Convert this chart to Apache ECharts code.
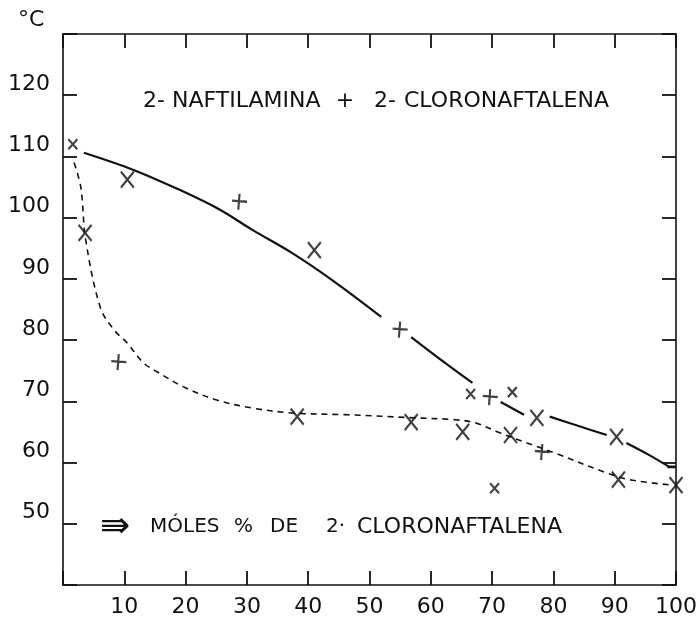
<!DOCTYPE html>
<html>
<head>
<meta charset="utf-8">
<script src="https://cdn.jsdelivr.net/npm/echarts@6/dist/echarts.min.js"></script>
<style>
html,body{margin:0;padding:0;background:#fff;}
#chart{width:700px;height:624px;}
</style>
</head>
<body>
<div id="chart"></div>
<script>
// ---- data ----
var xTicks = [10, 20, 30, 40, 50, 60, 70, 80, 90, 100];
var yTicks = [50, 60, 70, 80, 90, 100, 110, 120];

// liquidus (solid), null = pen lifted around a marker
var liquidusX = [3.4, 11.5, 19.1, 25.6, 30.9, 37.4, 43.9, 51.9, 54.0, 56.8, 61.5, 66.8, 69.0, 71.4, 75.2, 77.3, 79.4, 84.0, 88.7, 90.3, 91.9, 95.5, 98.9];
var liquidusY = [110.6, 107.8, 104.5, 101.3, 98.0, 94.2, 89.8, 83.8, null, 80.5, 76.9, 73.0, null, 69.9, 67.8, null, 67.5, 66.0, 64.5, null, 63.2, 61.3, 59.3];
// short flat stroke where the liquidus meets the right axis
var liquidusEndX = [98.6, 100];
var liquidusEndY = [59.3, 59.3];

// solidus (dashed)
var solidusX = [1.8, 2.9, 3.7, 6.1, 8.3, 10.5, 13.1, 15.4, 19.6, 25.1, 30.9, 37.4, 46.6, 57.4, 63.9, 67.2, 70.9, 75.7, 80.1, 88.7, 92.4, 99.5];
var solidusY = [109.0, 105.0, 96.4, 85.3, 81.7, 79.5, 76.3, 74.8, 72.4, 70.2, 68.9, 68.1, 67.8, 67.3, 67.0, 66.5, 65.0, 63.2, 61.6, 58.3, 57.2, 56.3];

// measured points drawn as "X"
var crossX = [10.5, 41.0, 3.6, 38.2, 77.3, 90.3, 56.8, 65.2, 73.0, 90.6, 100];
var crossY = [106.2, 94.7, 97.5, 67.5, 67.3, 64.2, 66.6, 65.0, 64.5, 57.2, 56.3];
// small "x"
var smallX = [1.6, 66.5, 73.3, 70.4];
var smallY = [112.0, 71.2, 71.5, 55.8];
// "+" shaped points
var plusX = [28.8, 9.1, 55.0, 69.7, 78.2];
var plusY = [102.6, 76.4, 81.7, 70.7, 61.7];

// texts
var unitText = '°C';
var titleParts = ['2-', 'NAFTILAMINA', '+', '2-', 'CLORONAFTALENA'];
var axisTitleParts = ['⇛', 'MÓLES', '%', 'DE', '2·', 'CLORONAFTALENA'];

function pairs(xs, ys) {
  return xs.map(function (x, i) { return [x, ys[i] === null ? '-' : ys[i]]; });
}

var INK = '#111';
var FONT = '"DejaVu Sans", sans-serif';
var X_PATH = 'path://M0,0L10,12M10,0L0,12';
var PLUS_PATH = 'path://M6,0L5,14M0,6L12,7';

var chart = echarts.init(document.getElementById('chart'));

function axisCommon() {
  return {
    axisLine: { show: true, onZero: false, lineStyle: { color: INK, width: 1.6 } },
    axisTick: { show: true, inside: true, length: 14, lineStyle: { color: INK, width: 1.8 } },
    splitLine: { show: false },
    axisLabel: { show: false }
  };
}

function txt(x, y, text, size, align) {
  return { type: 'text', x: x, y: y, silent: true,
    style: { text: text, font: size + 'px ' + FONT, fill: INK, align: align || 'left', verticalAlign: 'middle' } };
}

var option = {
  backgroundColor: '#fff',
  animation: false,
  grid: { left: 63, right: 20, top: 34, bottom: 39 },
  xAxis: [
    Object.assign(axisCommon(), {
      type: 'value', min: 0, max: 100, interval: 10, position: 'bottom',
      axisLabel: {
        show: true, color: INK, fontFamily: FONT, fontSize: 22, margin: 11,
        formatter: function (v) { return xTicks.indexOf(v) >= 0 ? String(v) : ''; }
      }
    }),
    Object.assign(axisCommon(), {
      type: 'value', min: 0, max: 100, interval: 10, position: 'top'
    })
  ],
  yAxis: [
    Object.assign(axisCommon(), {
      type: 'value', min: 40, max: 130, interval: 10, position: 'left',
      axisLabel: {
        show: true, color: INK, fontFamily: FONT, fontSize: 22, margin: 13,
        verticalAlign: 'bottom', lineHeight: 22,
        formatter: function (v) { return yTicks.indexOf(v) >= 0 ? String(v) : ''; }
      }
    }),
    Object.assign(axisCommon(), {
      type: 'value', min: 40, max: 130, interval: 10, position: 'right'
    })
  ],
  series: [
    {
      type: 'line', name: 'liquidus', data: pairs(liquidusX, liquidusY),
      smooth: 0.35, connectNulls: false, showSymbol: false, symbol: 'none',
      lineStyle: { color: INK, width: 2.2 }
    },
    {
      type: 'line', name: 'liquidus end', data: pairs(liquidusEndX, liquidusEndY),
      showSymbol: false, symbol: 'none',
      lineStyle: { color: INK, width: 2.6 }
    },
    {
      type: 'line', name: 'solidus', data: pairs(solidusX, solidusY),
      smooth: 0.35, showSymbol: false, symbol: 'none',
      lineStyle: { color: INK, width: 1.6, type: [6, 5] }
    },
    {
      type: 'scatter', name: 'X', data: pairs(crossX, crossY),
      symbol: X_PATH, symbolSize: [13, 16],
      itemStyle: { color: 'rgba(0,0,0,0)', borderColor: INK, borderWidth: 2.2 }
    },
    {
      type: 'scatter', name: 'x', data: pairs(smallX, smallY),
      symbol: X_PATH, symbolSize: [9, 10],
      itemStyle: { color: 'rgba(0,0,0,0)', borderColor: INK, borderWidth: 2.2 }
    },
    {
      type: 'scatter', name: '+', data: pairs(plusX, plusY),
      symbol: PLUS_PATH, symbolSize: [15, 16],
      itemStyle: { color: 'rgba(0,0,0,0)', borderColor: INK, borderWidth: 2.2 }
    }
  ],
  graphic: [
    txt(18, 20, unitText, 22),
    txt(143, 101, titleParts[0], 22),
    txt(172, 101, titleParts[1], 22),
    txt(345, 101, titleParts[2], 22, 'center'),
    txt(374, 101, titleParts[3], 22),
    txt(404, 101, titleParts[4], 22),
    txt(100, 528, axisTitleParts[0], 36),
    txt(150, 527, axisTitleParts[1], 20),
    txt(234, 527, axisTitleParts[2], 20),
    txt(270, 527, axisTitleParts[3], 20),
    txt(326, 527, axisTitleParts[4], 20),
    txt(357, 527, axisTitleParts[5], 22)
  ]
};
chart.setOption(option);
</script>
</body>
</html>
